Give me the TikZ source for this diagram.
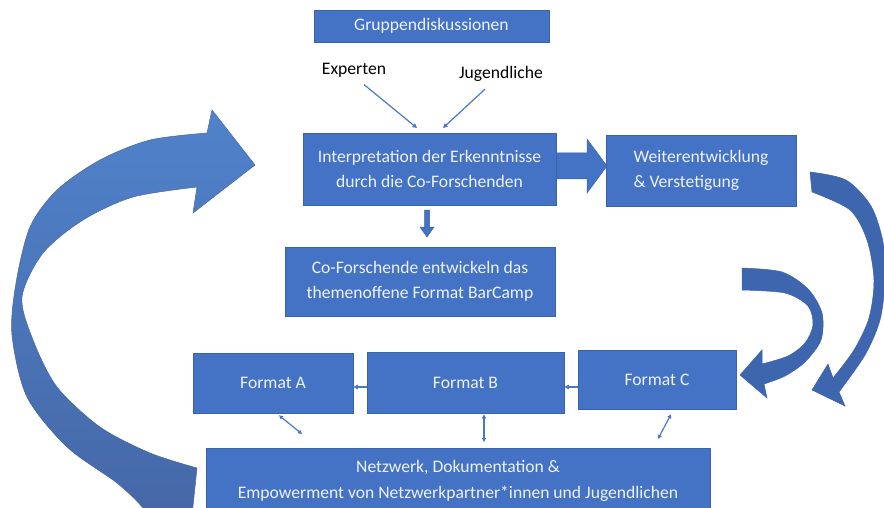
\documentclass[tikz,border=0pt]{standalone}
\usepackage{fontspec}
\setmainfont{Carlito}
\usepackage{tikz}
\usetikzlibrary{arrows.meta,positioning,calc}
\definecolor{boxblue}{HTML}{4472C4}
\definecolor{boxedge}{HTML}{3A62AA}
\definecolor{arcblue}{HTML}{3D66AE}
\definecolor{arctop}{HTML}{5082CA}
\definecolor{arcbot}{HTML}{4567A6}
\definecolor{linkblue}{HTML}{4A78C4}
\definecolor{boxtext}{HTML}{EEF2FA}

\begin{document}
\begin{tikzpicture}[x=1pt,y=-1pt,
  every node/.style={font=\fontsize{17.6}{24.5}\selectfont,align=center},
  box/.style={draw=boxedge,line width=0.6pt,fill=boxblue,text=boxtext,inner sep=0pt},
  link/.style={draw=linkblue,line width=1.2pt,-{Triangle[length=4.5pt,width=4.5pt]}},
  duo/.style={draw=linkblue,line width=1.2pt,{Triangle[length=4pt,width=4pt]}-{Triangle[length=4pt,width=4pt]}},
  blockarr/.style={fill=boxblue,draw=boxedge,line width=0.5pt},
  arcarr/.style={fill=arcblue,draw=boxedge,line width=0.5pt}]
\useasboundingbox (0,0) rectangle (884,508);

\shade[top color=arctop,bottom color=arcbot,draw=arcbot,line width=0.5pt]
  (207,133) -- (212,110) -- (255,165) -- (193,213) -- (197,187)
  -- plot[smooth] coordinates {(197,187) (133,197) (83,220) (43,253) (22,297) (33,340) (57,387) (100,427) (150,453) (197,468)}
  -- (191,525) -- (150,525)
  -- plot[smooth] coordinates {(150,525) (143,508) (117,483) (67,447) (27,397) (12,335) (16,283) (30,227) (57,190) (100,160) (150,140) (207,133)} -- cycle;
\filldraw[arcarr]
  plot[smooth] coordinates {(810,172) (846,180) (871,206) (883,242) (885,280) (880,320) (865,355) (839,392)}
  -- (845,406) -- (812,390) -- (828,364) -- (833,378)
  -- plot[smooth] coordinates {(833,378) (854,350) (869,318) (874,280) (867,240) (850,210) (812,192)} -- cycle;
\filldraw[arcarr]
  plot[smooth] coordinates {(742,268) (782,272) (808,289) (822,313) (821,340) (805,362) (785,376) (764,384)}
  -- (767,398) -- (740,375) -- (762,350) -- (762,364)
  -- plot[smooth] coordinates {(762,364) (788,356) (805,343) (813,325) (808,306) (785,293) (742,290)} -- cycle;

\node[box,minimum width=235pt,minimum height=32pt] (grp) at (431.5,26) {Gruppendiskussionen};
\node (expt) at (354,70) {Experten};
\node (jugd) at (501,74) {Jugendliche};
\node[box,minimum width=253pt,minimum height=72pt] (interp) at (429.5,169) {Interpretation der Erkenntnisse\\durch die Co-Forschenden};
\node[box,minimum width=190pt,minimum height=71pt,align=left] (weiter) at (701,170.5) {Weiterentwicklung\\\& Verstetigung};
\node[box,minimum width=270pt,minimum height=69pt] (cofo) at (420,281.5) {Co-Forschende entwickeln das\\themenoffene Format BarCamp};
\node[box,minimum width=160pt,minimum height=60pt] (fmtA) at (273,383) {Format A};
\node[box,minimum width=197pt,minimum height=61pt] (fmtB) at (465.5,382.5) {Format B};
\node[box,minimum width=158pt,minimum height=59pt] (fmtC) at (657,379.5) {Format C};
\node[box,minimum width=504pt,minimum height=66pt] (netz) at (458,481) {Netzwerk, Dokumentation \&\\[1.5pt]Empowerment von Netzwerkpartner*innen und Jugendlichen};

\coordinate (ex-in) at (417,128);
\coordinate (ju-in) at (443,128);
\coordinate (a-net) at (302,434);
\coordinate (b-net) at (484,442);
\coordinate (c-net) at (658,439);
\draw[link] ([xshift=10pt,yshift=-4pt]expt.south) -- (ex-in);
\draw[link] ([xshift=-16pt,yshift=-4pt]jugd.south) -- (ju-in);
\draw[link] ([yshift=-7.5pt]fmtC.west) -- ([yshift=-4.5pt]fmtB.east);
\draw[link] ([yshift=-4.5pt]fmtB.west) -- ([yshift=-4pt]fmtA.east);
\draw[duo] ([xshift=6pt,yshift=-2pt]fmtA.south) -- (a-net);
\draw[duo] ([xshift=18.5pt,yshift=-1pt]fmtB.south) -- (b-net);
\draw[duo] ([xshift=14pt,yshift=-5pt]fmtC.south) -- (c-net);

\filldraw[blockarr] (interp.east |- 0,153) -- (587,153) -- (587,139) -- (607,166) -- (587,193) -- (587,179) -- (interp.east |- 0,179) -- cycle;
\filldraw[blockarr] (424.5,210) -- (429.5,210) -- (429.5,227) -- (434,227) -- (427,237) -- (420,227) -- (424.5,227) -- cycle;
\end{tikzpicture}
\end{document}
